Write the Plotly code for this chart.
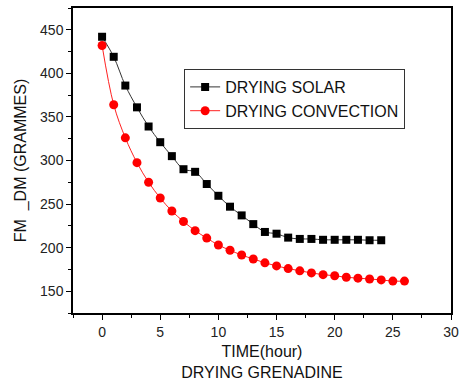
import plotly.graph_objects as go

time_solar = list(range(0, 25))
solar = [442, 419, 386, 361, 339, 321, 305, 290, 287, 273, 259.5, 247, 237, 227,
         218, 216, 211.5, 210, 210, 209, 209, 209, 209, 208.5, 208.5]
time_conv = list(range(0, 27))
convection = [432, 364, 326, 297.5, 275, 257, 242, 230, 219.5, 211, 203, 197, 191.5, 187,
              182.6, 179, 176, 173.4, 171, 169, 167.7, 166, 165, 164, 163, 161.6, 161.6]

font = "Liberation Sans, Arial, sans-serif"

fig = go.Figure()
fig.add_trace(go.Scatter(
    x=time_solar, y=solar, name="DRYING SOLAR", mode="lines+markers",
    line=dict(color="#333333", width=1, shape="spline"),
    marker=dict(symbol="square", size=8, color="black"),
))
fig.add_trace(go.Scatter(
    x=time_conv, y=convection, name="DRYING CONVECTION", mode="lines+markers",
    line=dict(color="#ff2020", width=1, shape="spline"),
    marker=dict(symbol="circle", size=9, color="#ff0000"),
))

axis_common = dict(
    showgrid=False, zeroline=False, showline=True, linecolor="black", linewidth=1.5,
    mirror=True, ticks="outside", ticklen=5, tickwidth=1, tickcolor="black",
    tickfont=dict(family=font, size=14, color="#222"), automargin=False,
)

fig.update_layout(
    width=459, height=382,
    margin=dict(l=73, r=8, t=8, b=69),
    paper_bgcolor="white", plot_bgcolor="white",
    font=dict(family=font, size=16, color="#111"),
    xaxis=dict(range=[-2.5, 30], dtick=5, tick0=0,
               minor=dict(dtick=2.5, ticks="outside", ticklen=3, tickcolor="black"),
               title=dict(text="TIME(hour)<br>DRYING GRENADINE", standoff=7,
                          font=dict(family=font, size=16)),
               **axis_common),
    yaxis=dict(range=[125, 475], dtick=50, tick0=150,
               minor=dict(dtick=25, ticks="outside", ticklen=3, tickcolor="black"),
               title=dict(text="FM  _DM (GRAMMES)", standoff=9,
                          font=dict(family=font, size=16)),
               **axis_common),
    legend=dict(x=0.294, y=0.80, xanchor="left", yanchor="top",
                bgcolor="white", bordercolor="#333", borderwidth=1,
                font=dict(family=font, size=16, color="#111"),
                tracegroupgap=0, itemwidth=30),
    showlegend=True,
)

fig.write_html("out.html")
